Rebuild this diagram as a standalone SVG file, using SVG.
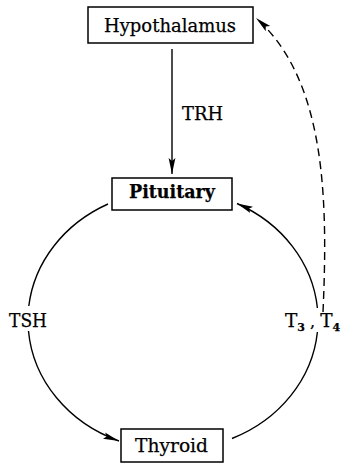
<svg xmlns="http://www.w3.org/2000/svg" width="344" height="464" viewBox="0 0 344 464">
  <style>
    .box { fill: #fff; stroke: #000; stroke-width: 1.5; }
    .lbl { font-family: "DejaVu Serif", "Liberation Serif", serif; font-size: 18.5px; fill: #000; stroke: #000; stroke-width: 0.25; }
    .bold { font-weight: bold; }
    .wire { fill: none; stroke: #000; stroke-width: 1.4; }
    .dash { stroke-dasharray: 8 5; }
  </style>
  <defs>
    <marker id="head" markerUnits="userSpaceOnUse" markerWidth="18" markerHeight="10" refX="16" refY="5" orient="auto">
      <path d="M0,1.6 L16,5 L0,8.4 L3,5 Z" fill="#000"/>
    </marker>
  </defs>

  <rect width="344" height="464" fill="#fff"/>

  <!-- connectors -->
  <g id="connectors">
    <!-- TRH: hypothalamus to pituitary -->
    <path class="wire" d="M172,49 L172,174" marker-end="url(#head)"/>
    <!-- TSH: pituitary to thyroid, broken around its label -->
    <path class="wire" d="M108,204 A145,130 0 0 0 28.8,306"/>
    <path class="wire" d="M28.5,331 A145,130 0 0 0 119,441" marker-end="url(#head)"/>
    <!-- T3/T4: thyroid back to pituitary -->
    <path class="wire" d="M232,438.5 A145,130 0 0 0 317.4,332"/>
    <path class="wire" d="M317.4,308 A145,130 0 0 0 237,203.5" marker-end="url(#head)"/>
    <!-- feedback to hypothalamus -->
    <path class="wire dash" d="M323,312 C328,200 326,80 256,18" marker-end="url(#head)"/>
  </g>

  <g id="hypothalamus">
    <rect class="box" x="88" y="7" width="165" height="36"/>
    <text class="lbl" x="104" y="32" textLength="132" lengthAdjust="spacingAndGlyphs">Hypothalamus</text>
  </g>

  <g id="pituitary">
    <rect class="box" x="112" y="178" width="120" height="32"/>
    <text class="lbl bold" x="129" y="198" textLength="86" lengthAdjust="spacingAndGlyphs">Pituitary</text>
  </g>

  <g id="thyroid">
    <rect class="box" x="121" y="429" width="102" height="33"/>
    <text class="lbl" x="135" y="452" textLength="73" lengthAdjust="spacingAndGlyphs">Thyroid</text>
  </g>

  <g id="labels">
    <text class="lbl" x="182" y="120" textLength="41" lengthAdjust="spacingAndGlyphs">TRH</text>
    <text class="lbl" x="9" y="327" textLength="38" lengthAdjust="spacingAndGlyphs">TSH</text>
    <text class="lbl" x="285" y="327">T<tspan font-size="11" font-weight="bold" dy="4">3</tspan><tspan dy="-4" font-size="16"> , </tspan>T<tspan font-size="11" font-weight="bold" dy="4">4</tspan></text>
  </g>
</svg>
